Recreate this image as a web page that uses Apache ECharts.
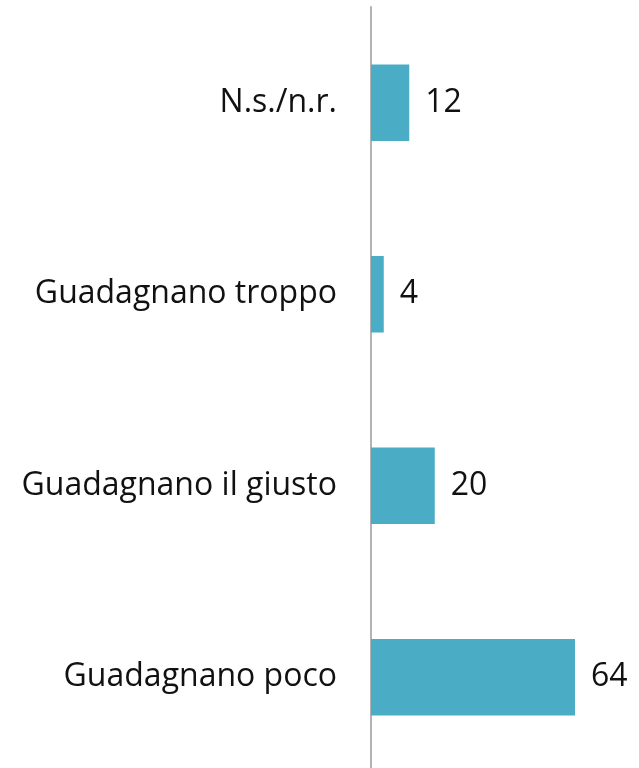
<!DOCTYPE html>
<html>
<head>
<meta charset="utf-8">
<script src="https://cdn.jsdelivr.net/npm/echarts@6/dist/echarts.min.js"></script>
<style>
  html, body { margin: 0; padding: 0; background: #fff; }
  #chart { width: 639px; height: 768px; }
</style>
</head>
<body>
<div id="chart"></div>
<script>
var categories = ['N.s./n.r.', 'Guadagnano troppo', 'Guadagnano il giusto', 'Guadagnano poco'];
var values = [12, 4, 20, 64];

var myChart = echarts.init(document.getElementById('chart'));
var option = {
    animation: false,
    backgroundColor: '#ffffff',
    grid: {
        left: 371,
        right: 13,
        top: 7,
        height: 766,
        outerBoundsMode: 'none'
    },
    xAxis: {
        type: 'value',
        min: 0,
        max: 80,
        show: false
    },
    yAxis: {
        type: 'category',
        data: categories,
        inverse: true,
        axisLine: { show: true, lineStyle: { color: '#b3b3b3', width: 2 } },
        axisTick: { show: false },
        splitLine: { show: false },
        axisLabel: {
            margin: 34,
            color: '#111111',
            fontFamily: 'Open Sans',
            fontSize: 32
        }
    },
    series: [{
        type: 'bar',
        data: values,
        barWidth: '40%',
        itemStyle: { color: '#4bacc6' },
        label: {
            show: true,
            position: 'right',
            distance: 16,
            color: '#111111',
            fontFamily: 'Open Sans',
            fontSize: 32
        }
    }]
};
myChart.setOption(option);
</script>
</body>
</html>
